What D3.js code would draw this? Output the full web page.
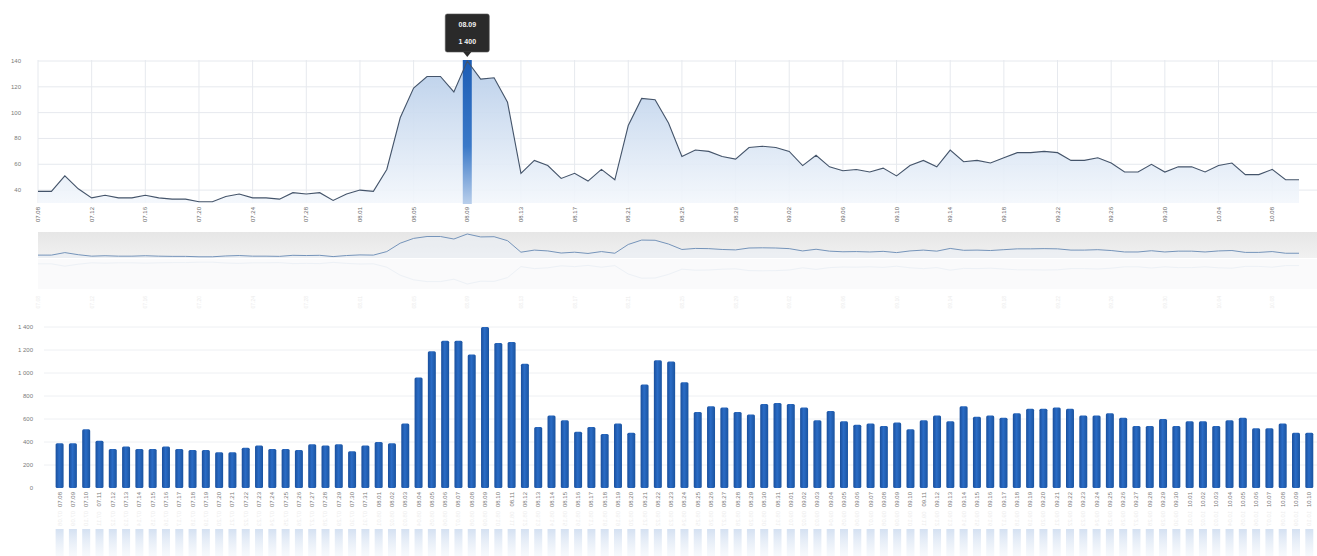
<!DOCTYPE html>
<html>
<head>
<meta charset="utf-8">
<script src="https://cdn.jsdelivr.net/npm/d3@7"></script>
<style>
  html, body { margin: 0; padding: 0; background: #fff; }
  svg { display: block; font-family: "Liberation Sans", Arial, sans-serif; }
</style>
</head>
<body>
<svg id="chart" width="1317" height="556"></svg>
<script>
// ---- data ----
const categories = [
  "07.08","07.09","07.10","07.11","07.12","07.13","07.14","07.15","07.16","07.17","07.18","07.19",
  "07.20","07.21","07.22","07.23","07.24","07.25","07.26","07.27","07.28","07.29","07.30","07.31",
  "08.01","08.02","08.03","08.04","08.05","08.06","08.07","08.08","08.09","08.10","08.11","08.12",
  "08.13","08.14","08.15","08.16","08.17","08.18","08.19","08.20","08.21","08.22","08.23","08.24",
  "08.25","08.26","08.27","08.28","08.29","08.30","08.31",
  "09.01","09.02","09.03","09.04","09.05","09.06","09.07","09.08","09.09","09.10","09.11","09.12",
  "09.13","09.14","09.15","09.16","09.17","09.18","09.19","09.20","09.21","09.22","09.23","09.24",
  "09.25","09.26","09.27","09.28","09.29","09.30",
  "10.01","10.02","10.03","10.04","10.05","10.06","10.07","10.08","10.09","10.10"
];
const values = [
  390,390,510,410,340,360,340,340,360,340,330,330,310,310,350,370,340,340,330,380,
  370,380,320,370,400,390,560,960,1190,1280,1280,1160,1400,1260,1270,1080,530,630,590,490,
  530,470,560,480,900,1110,1100,920,660,710,700,660,640,730,740,730,700,590,670,580,
  550,560,540,570,510,590,630,580,710,620,630,610,650,690,690,700,690,630,630,650,
  610,540,540,600,540,580,580,540,590,610,520,520,560,480,480
];
const topTickValues = [400, 600, 800, 1000, 1200, 1400];
const topTickLabels = ["40", "60", "80", "100", "120", "140"];
const bottomTickValues = [0, 200, 400, 600, 800, 1000, 1200, 1400];
const bottomTickLabels = ["0", "200", "400", "600", "800", "1 000", "1 200", "1 400"];
const highlightIndex = 32;
const tooltipLines = ["08.09", "1 400"];

// ---- setup ----
const svg = d3.select("#chart");
const defs = svg.append("defs");

const areaGrad = defs.append("linearGradient").attr("id", "areaGrad")
  .attr("x1", 0).attr("y1", 0).attr("x2", 0).attr("y2", 1);
areaGrad.append("stop").attr("offset", "0%").attr("stop-color", "#b7cde9").attr("stop-opacity", 0.95);
areaGrad.append("stop").attr("offset", "100%").attr("stop-color", "#f3f7fc").attr("stop-opacity", 0.9);

const hlGrad = defs.append("linearGradient").attr("id", "hlGrad")
  .attr("x1", 0).attr("y1", 0).attr("x2", 0).attr("y2", 1);
hlGrad.append("stop").attr("offset", "0%").attr("stop-color", "#1c5db5");
hlGrad.append("stop").attr("offset", "60%").attr("stop-color", "#3b79c8");
hlGrad.append("stop").attr("offset", "100%").attr("stop-color", "#b9cfeb");

const barGrad = defs.append("linearGradient").attr("id", "barGrad")
  .attr("x1", 0).attr("y1", 0).attr("x2", 1).attr("y2", 0);
barGrad.append("stop").attr("offset", "0%").attr("stop-color", "#1a4f9c");
barGrad.append("stop").attr("offset", "45%").attr("stop-color", "#2a6cc6");
barGrad.append("stop").attr("offset", "100%").attr("stop-color", "#1a539f");

const reflGrad = defs.append("linearGradient").attr("id", "reflGrad")
  .attr("x1", 0).attr("y1", 0).attr("x2", 0).attr("y2", 1);
reflGrad.append("stop").attr("offset", "0%").attr("stop-color", "#a9c2e4").attr("stop-opacity", 0.5);
reflGrad.append("stop").attr("offset", "100%").attr("stop-color", "#d6e2f2").attr("stop-opacity", 0.2);

const navGrad = defs.append("linearGradient").attr("id", "navGrad")
  .attr("x1", 0).attr("y1", 0).attr("x2", 0).attr("y2", 1);
navGrad.append("stop").attr("offset", "0%").attr("stop-color", "#e6e6e6");
navGrad.append("stop").attr("offset", "100%").attr("stop-color", "#f1f1f1");

const labelColor = "#7a7a7a";
const gridColor = "#e6e9ee";

// ================= TOP AREA CHART =================
const xTop = d3.scalePoint().domain(categories).range([38, 1299]);
const yTop = d3.scaleLinear().domain([300, 1400]).range([203, 61]);

const topG = svg.append("g");

topG.append("g").selectAll("line").data(topTickValues).join("line")
  .attr("x1", 38).attr("x2", 1317)
  .attr("y1", d => yTop(d)).attr("y2", d => yTop(d))
  .attr("stroke", gridColor).attr("stroke-width", 1);

const topTickCats = categories.filter((d, i) => i % 4 === 0);
topG.append("g").selectAll("line").data(topTickCats).join("line")
  .attr("x1", d => xTop(d)).attr("x2", d => xTop(d))
  .attr("y1", 60).attr("y2", 203)
  .attr("stroke", gridColor).attr("stroke-width", 1);

topG.append("g").selectAll("text").data(topTickValues).join("text")
  .attr("x", 21).attr("y", d => yTop(d) + 2)
  .attr("text-anchor", "end")
  .attr("font-size", 6).attr("fill", labelColor)
  .text((d, i) => topTickLabels[i]);

const area = d3.area()
  .x((d, i) => xTop(categories[i]))
  .y0(yTop(300)).y1(d => yTop(d));
const line = d3.line()
  .x((d, i) => xTop(categories[i]))
  .y(d => yTop(d));

topG.append("path").datum(values).attr("d", area).attr("fill", "url(#areaGrad)");

const hx = xTop(categories[highlightIndex]);
topG.append("rect")
  .attr("x", hx - 4.5).attr("y", yTop(values[highlightIndex]) - 1)
  .attr("width", 9).attr("height", 205 - yTop(values[highlightIndex]))
  .attr("fill", "url(#hlGrad)");

topG.append("path").datum(values).attr("d", line)
  .attr("fill", "none").attr("stroke", "#44546a").attr("stroke-width", 1.1);

topG.append("g").selectAll("text").data(topTickCats).join("text")
  .attr("transform", d => `translate(${xTop(d) + 2},207) rotate(-90)`)
  .attr("text-anchor", "end")
  .attr("font-size", 6).attr("fill", "#666")
  .text(d => d);

// tooltip
const tt = svg.append("g").attr("transform", `translate(${hx},0)`);
tt.append("rect").attr("x", -22).attr("y", 14).attr("width", 44).attr("height", 38)
  .attr("rx", 2).attr("fill", "#2a2a2a").attr("stroke", "#555").attr("stroke-width", 0.6);
tt.append("path").attr("d", "M-4,52 L0,57 L4,52 Z").attr("fill", "#2a2a2a");
tt.append("text").attr("x", 0).attr("y", 27).attr("text-anchor", "middle")
  .attr("font-size", 7).attr("font-weight", "bold").attr("fill", "#f2f2f2").text(tooltipLines[0]);
tt.append("text").attr("x", 0).attr("y", 44).attr("text-anchor", "middle")
  .attr("font-size", 7).attr("font-weight", "bold").attr("fill", "#f2f2f2").text(tooltipLines[1]);

// ================= NAVIGATOR =================
const yNav = d3.scaleLinear().domain([300, 1400]).range([257, 234]);
svg.append("rect").attr("x", 38).attr("y", 232).attr("width", 1279).attr("height", 26)
  .attr("fill", "url(#navGrad)");
const navArea = d3.area().x((d, i) => xTop(categories[i])).y0(258).y1(d => yNav(d));
svg.append("path").datum(values).attr("d", navArea).attr("fill", "#e9eef5").attr("opacity", 0.6);
svg.append("path").datum(values)
  .attr("d", d3.line().x((d, i) => xTop(categories[i])).y(d => yNav(d)))
  .attr("fill", "none").attr("stroke", "#7594ba").attr("stroke-width", 1);

// faint reflection of the navigator
const yNavRefl = d3.scaleLinear().domain([300, 1400]).range([262, 284]);
svg.append("rect").attr("x", 38).attr("y", 259).attr("width", 1279).attr("height", 30)
  .attr("fill", "#fafafb");
svg.append("path").datum(values)
  .attr("d", d3.line().x((d, i) => xTop(categories[i])).y(d => yNavRefl(d)))
  .attr("fill", "none").attr("stroke", "#edf1f6").attr("stroke-width", 1);

svg.append("g").selectAll("text").data(topTickCats).join("text")
  .attr("transform", d => `translate(${xTop(d) + 2},296) rotate(-90)`)
  .attr("text-anchor", "end")
  .attr("font-size", 5).attr("fill", "#ebebeb")
  .text(d => d);

// ================= BOTTOM BAR CHART =================
const xBot = d3.scaleBand().domain(categories).range([50.3, 1318.6]).padding(0.4);
const yBot = d3.scaleLinear().domain([0, 1400]).range([488, 327]);
const botG = svg.append("g");

botG.append("g").selectAll("line").data(bottomTickValues.filter(d => d > 0)).join("line")
  .attr("x1", 44).attr("x2", 1317)
  .attr("y1", d => yBot(d)).attr("y2", d => yBot(d))
  .attr("stroke", "#eef0f3").attr("stroke-width", 1);

botG.append("g").selectAll("text").data(bottomTickValues).join("text")
  .attr("x", 33).attr("y", d => yBot(d) + 2)
  .attr("text-anchor", "end")
  .attr("font-size", 6).attr("fill", labelColor)
  .text((d, i) => bottomTickLabels[i]);

botG.append("g").selectAll("rect").data(values).join("rect")
  .attr("x", (d, i) => xBot(categories[i]))
  .attr("y", d => yBot(d))
  .attr("width", xBot.bandwidth())
  .attr("height", d => yBot(0) - yBot(d))
  .attr("rx", 1.5)
  .attr("fill", "url(#barGrad)");

botG.append("g").selectAll("text").data(categories).join("text")
  .attr("transform", d => `translate(${xBot(d) + xBot.bandwidth() / 2 + 2},492) rotate(-90)`)
  .attr("text-anchor", "end")
  .attr("font-size", 6).attr("fill", "#777")
  .text(d => d);

botG.append("g").selectAll("text").data(categories).join("text")
  .attr("transform", d => `translate(${xBot(d) + xBot.bandwidth() / 2 + 2},526) scale(1,-1) rotate(-90)`)
  .attr("text-anchor", "end")
  .attr("font-size", 6).attr("fill", "#ededed")
  .text(d => d);

botG.append("g").selectAll("rect").data(values).join("rect")
  .attr("x", (d, i) => xBot(categories[i]))
  .attr("y", 529)
  .attr("width", xBot.bandwidth())
  .attr("height", d => Math.min(yBot(0) - yBot(d), 27))
  .attr("fill", "url(#reflGrad)");
</script>
</body>
</html>
